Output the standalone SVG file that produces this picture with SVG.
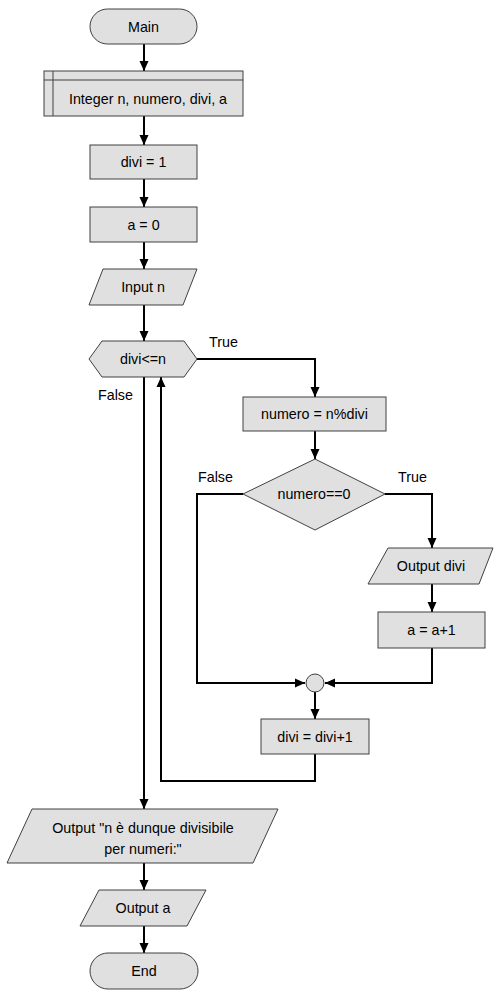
<svg xmlns="http://www.w3.org/2000/svg" width="503" height="998" viewBox="0 0 503 998">
  <style>
    .shape { fill: #e0e0e0; stroke: #404040; stroke-width: 1; }
    .label { font-family: "Liberation Sans", Arial, sans-serif; font-size: 14.3px; fill: #000; text-anchor: middle; dominant-baseline: central; }
    .edge-label { font-family: "Liberation Sans", Arial, sans-serif; font-size: 14.3px; fill: #000; dominant-baseline: central; }
    .wire { fill: none; stroke: #000; stroke-width: 2; marker-end: url(#arrow); }
  </style>
  <defs>
    <marker id="arrow" markerWidth="10" markerHeight="10" refX="10" refY="5" orient="auto" markerUnits="userSpaceOnUse">
      <path d="M0,0.5 L10,5 L0,9.5 Z" fill="#000"/>
    </marker>
  </defs>

  <!-- connectors -->
  <g id="connectors">
    <path class="wire" d="M144,44 V71"/>
    <path class="wire" d="M144,116 V145"/>
    <path class="wire" d="M144,179 V207"/>
    <path class="wire" d="M144,242 V269"/>
    <path class="wire" d="M144,305 V341"/>
    <path class="wire" d="M197,359 H315 V397"/>
    <path class="wire" d="M315,431 V459"/>
    <path class="wire" d="M385,494 H432 V548"/>
    <path class="wire" d="M432,584 V612"/>
    <path class="wire" d="M432,648 V683 H325"/>
    <path class="wire" d="M243,494 H197 V683 H305"/>
    <path class="wire" d="M315,692 V719"/>
    <path class="wire" d="M315,754 V781 H161 V377"/>
    <path class="wire" d="M144,377 V809"/>
    <path class="wire" d="M144,863 V890"/>
    <path class="wire" d="M144,926 V953"/>
    <text class="edge-label" x="209" y="342">True</text>
    <text class="edge-label" x="98" y="395">False</text>
    <text class="edge-label" x="198" y="477">False</text>
    <text class="edge-label" x="398" y="477">True</text>
  </g>

  <g id="main">
    <rect class="shape" x="90" y="9" width="107" height="35" rx="17.5"/>
    <text class="label" x="143.5" y="26.5">Main</text>
  </g>

  <g id="declare">
    <rect class="shape" x="44" y="71" width="199" height="45"/>
    <line class="shape" x1="44" y1="80" x2="243" y2="80"/>
    <line class="shape" x1="53" y1="71" x2="53" y2="116"/>
    <text class="label" x="148" y="99">Integer n, numero, divi, a</text>
  </g>

  <g id="divi-init">
    <rect class="shape" x="90" y="145" width="107" height="34"/>
    <text class="label" x="143.5" y="162">divi = 1</text>
  </g>

  <g id="a-init">
    <rect class="shape" x="90" y="207" width="107" height="35"/>
    <text class="label" x="143.5" y="224.5">a = 0</text>
  </g>

  <g id="input-n">
    <polygon class="shape" points="103,269 197,269 183,305 89,305"/>
    <text class="label" x="143" y="287">Input n</text>
  </g>

  <g id="loop">
    <polygon class="shape" points="89,359 102,341 184,341 197,359 184,377 102,377"/>
    <text class="label" x="143" y="359">divi&lt;=n</text>
  </g>

  <g id="mod">
    <rect class="shape" x="243" y="397" width="143" height="34"/>
    <text class="label" x="314.5" y="414">numero = n%divi</text>
  </g>

  <g id="check">
    <polygon class="shape" points="315,459 385,494 315,530 243,494"/>
    <text class="label" x="314" y="494">numero==0</text>
  </g>

  <g id="output-divi">
    <polygon class="shape" points="388,548 493,548 479,584 368,584"/>
    <text class="label" x="431" y="566">Output divi</text>
  </g>

  <g id="a-inc">
    <rect class="shape" x="378" y="612" width="107" height="36"/>
    <text class="label" x="431.5" y="630">a = a+1</text>
  </g>

  <g id="join">
    <circle class="shape" cx="315" cy="683" r="9"/>
  </g>

  <g id="divi-inc">
    <rect class="shape" x="261" y="719" width="108" height="35"/>
    <text class="label" x="315" y="736.5">divi = divi+1</text>
  </g>

  <g id="output-msg">
    <polygon class="shape" points="32,809 278,809 253,863 7,863"/>
    <text class="label" x="143" y="828">Output "n è dunque divisibile</text>
    <text class="label" x="143" y="849">per numeri:"</text>
  </g>

  <g id="output-a">
    <polygon class="shape" points="99,890 206,890 187,926 80,926"/>
    <text class="label" x="143" y="908">Output a</text>
  </g>

  <g id="end">
    <rect class="shape" x="90" y="953" width="108" height="36" rx="18"/>
    <text class="label" x="144" y="971">End</text>
  </g>
</svg>
